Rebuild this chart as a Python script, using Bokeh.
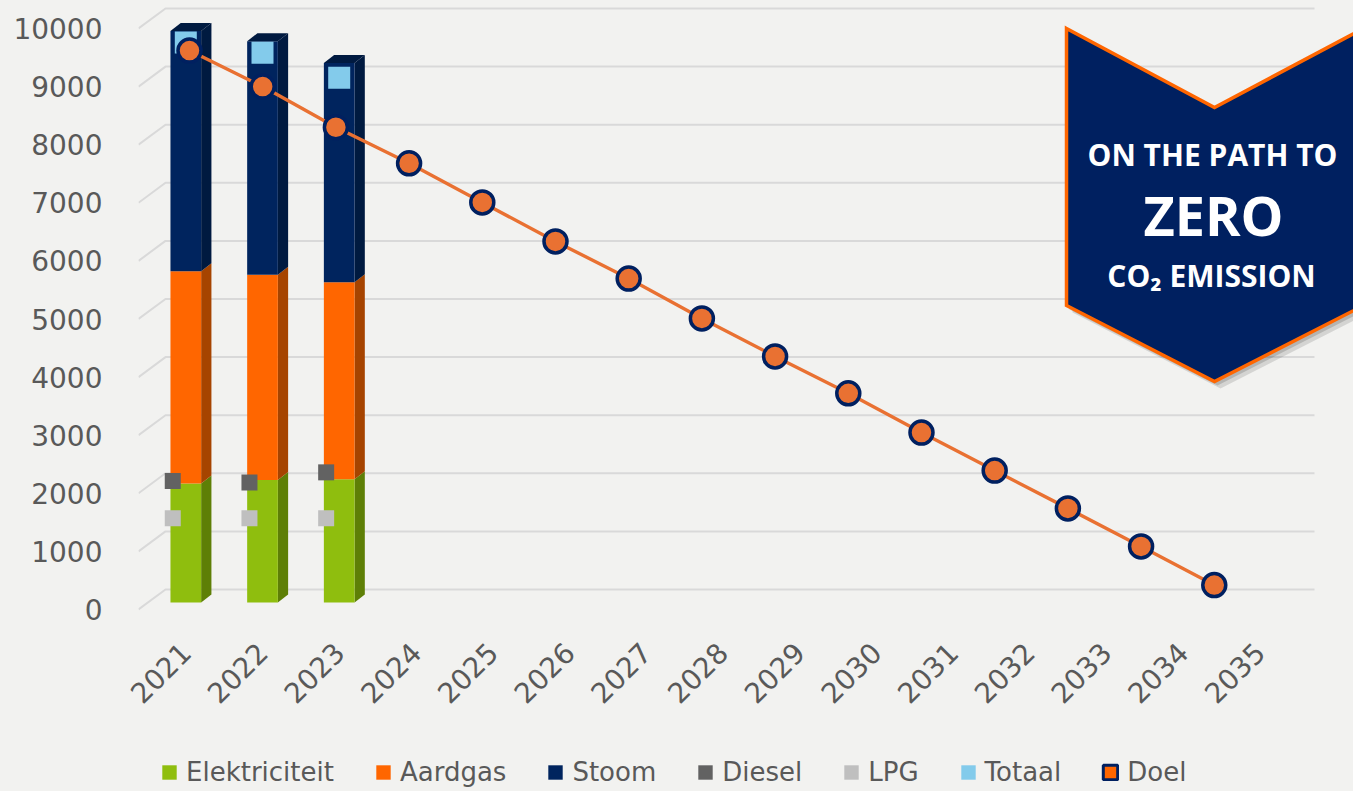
import numpy as np
from bokeh.plotting import figure
from bokeh.layouts import column
from bokeh.models import Range1d, LinearAxis, FixedTicker, Legend, LegendItem, ColumnDataSource
from bokeh.core.properties import value
from bokeh.transform import dodge
from bokeh.embed import file_html
from bokeh.resources import INLINE

# ---------------- data ----------------
years = ["2021", "2022", "2023", "2024", "2025", "2026", "2027", "2028",
         "2029", "2030", "2031", "2032", "2033", "2034", "2035"]
bar_years = ["2021", "2022", "2023"]
elektriciteit = [2050, 2110, 2120]
aardgas = [3650, 3530, 3390]
stoom = [4135, 4020, 3775]
diesel = [2090, 2065, 2240]
lpg = [1450, 1450, 1450]
totaal = [9640, 9460, 9030]
doel = [9500, 8880, 8180, 7560, 6885, 6215, 5575, 4890, 4235, 3600, 2925, 2270, 1620, 965, 300]
yticks = [0, 1000, 2000, 3000, 4000, 5000, 6000, 7000, 8000, 9000, 10000]

# ---------------- style ----------------
BG = "#f2f2f0"
TXT = "#595959"
FONT = "DejaVu Sans"
C_EL, C_EL_S = "#8fbe0e", "#5e7f06"
C_AG, C_AG_S = "#ff6600", "#a64400"
C_ST, C_ST_S = "#00245e", "#001a40"
C_DI, C_LPG, C_TOT = "#626262", "#bfbfbf", "#83cbeb"
C_DOEL, C_NAVY = "#e97132", "#002060"

W, H, LH = 1353, 745, 46

p = figure(width=W, height=H, output_backend="svg", toolbar_location=None, title=None,
           x_axis_location=None, y_axis_location=None,
           x_range=Range1d(-0.6167, 15.224), y_range=Range1d(-309.8, 10361.4),
           min_border_left=138, min_border_right=0, min_border_top=0, min_border_bottom=125,
           background_fill_color=BG, border_fill_color=BG, outline_line_color=None,
           styles={"background-color": BG})
p.grid.visible = False
p.extra_x_ranges = {"doel": Range1d(-0.6967, 15.902), "px": Range1d(138, 1353)}
p.extra_y_ranges = {"front": Range1d(-189.3, 10481.9), "back": Range1d(-533.6, 10137.7),
                    "px": Range1d(620, 0)}

# ---------------- grid (3D back wall) ----------------
gxs = [[138, 165, 1314] for _ in yticks]
gys = [[v - 344, v, v] for v in yticks]
p.multi_line(xs=gxs, ys=gys, x_range_name="px", y_range_name="back",
             line_color="#d9d9d9", line_width=2)

# ---------------- bars (3D columns) ----------------
xi = np.arange(len(bar_years), dtype=float)
el = np.array(elektriciteit, float)
ag = np.array(aardgas, float)
st = np.array(stoom, float)
b0 = np.zeros_like(el)
b1 = el
b2 = el + ag
b3 = el + ag + st
bw = 0.4
dx, dy = 0.134, 138.0

for lo, hi, cf, cs in [(b0, b1, C_EL, C_EL_S), (b1, b2, C_AG, C_AG_S), (b2, b3, C_ST, C_ST_S)]:
    xr = xi + bw / 2
    sx = [[r, r + dx, r + dx, r] for r in xr]
    sy = [[l, l + dy, h + dy, h] for l, h in zip(lo, hi)]
    p.patches(xs=sx, ys=sy, fill_color=cs, line_color=None)
    p.vbar(x=xi, width=bw, bottom=lo, top=hi, fill_color=cf, line_color=None)

tx = [[x - bw / 2, x - bw / 2 + dx, x + bw / 2 + dx, x + bw / 2] for x in xi]
ty = [[t, t + dy, t + dy, t] for t in b3]
p.patches(xs=tx, ys=ty, fill_color=C_ST_S, line_color=None)

# ---------------- markers ----------------
msrc = ColumnDataSource(dict(x=xi, diesel=diesel, lpg=lpg, totaal=totaal))
p.scatter(x=dodge("x", -0.17), y="lpg", source=msrc, marker="square", size=16,
          fill_color=C_LPG, line_color=None)
p.scatter(x=dodge("x", -0.17), y="diesel", source=msrc, marker="square", size=16,
          fill_color=C_DI, line_color=None)
p.scatter(x="x", y="totaal", source=msrc, marker="square", size=22,
          fill_color=C_TOT, line_color=None)

dsrc = ColumnDataSource(dict(x=np.arange(len(years), dtype=float), y=doel))
p.line(x="x", y="y", source=dsrc, x_range_name="doel", line_color=C_DOEL, line_width=3.4)
p.scatter(x="x", y="y", source=dsrc, x_range_name="doel", marker="circle", size=23,
          fill_color=C_DOEL, line_color=C_NAVY, line_width=3.5)

# ---------------- banner ----------------
bx = [1066, 1214, 1363, 1363, 1214, 1066]
by = [28, 107, 28, 305, 381, 305]
p.patch(x=[v + 6 for v in bx], y=[v + 7 for v in by], x_range_name="px", y_range_name="px",
        fill_color="#000000", fill_alpha=0.12, line_color=None)
p.patch(x=[v + 3 for v in bx], y=[v + 4 for v in by], x_range_name="px", y_range_name="px",
        fill_color="#000000", fill_alpha=0.15, line_color=None)
p.patch(x=bx, y=by, x_range_name="px", y_range_name="px",
        fill_color=C_NAVY, line_color="#ff6600", line_width=3.5, line_join="miter")
p.text(x=[1212], y=[154], text=["ON THE PATH TO"], x_range_name="px", y_range_name="px",
       text_font=value("Open Sans"), text_font_style="bold", text_font_size="30px",
       text_color="white", text_align="center", text_baseline="middle")
p.text(x=[1213], y=[214], text=["ZERO"], x_range_name="px", y_range_name="px",
       text_font=value("Open Sans"), text_font_style="bold", text_font_size="54px",
       text_color="white", text_align="center", text_baseline="middle")
p.text(x=[1211], y=[275], text=["CO₂ EMISSION"], x_range_name="px", y_range_name="px",
       text_font=value("Open Sans"), text_font_style="bold", text_font_size="30px",
       text_color="white", text_align="center", text_baseline="middle")

# ---------------- axes ----------------
yax = LinearAxis(y_range_name="front", ticker=FixedTicker(ticks=yticks))
xax = LinearAxis(ticker=FixedTicker(ticks=list(range(len(years)))),
                 major_label_overrides={i: y for i, y in enumerate(years)})
xax.major_label_orientation = np.pi / 4
for ax, so, fs in [(yax, 36, "28px"), (xax, 27, "28px")]:
    ax.axis_line_color = None
    ax.major_tick_line_color = None
    ax.minor_tick_line_color = None
    ax.major_tick_out = 0
    ax.major_tick_in = 0
    ax.major_label_standoff = so
    ax.major_label_text_font = FONT
    ax.major_label_text_font_size = fs
    ax.major_label_text_color = TXT
p.add_layout(yax, "left")
p.add_layout(xax, "below")

# ---------------- legend (own strip below the chart) ----------------
lf = figure(width=W, height=LH, output_backend="svg", toolbar_location=None, title=None,
            x_axis_location=None, y_axis_location=None,
            x_range=Range1d(0, 1), y_range=Range1d(0, 1),
            min_border_left=0, min_border_right=0, min_border_top=0, min_border_bottom=0,
            background_fill_color=BG, border_fill_color=BG, outline_line_color=None,
            styles={"background-color": BG})
lf.grid.visible = False


def dummy(fill, line=None, lw=0):
    # legend-only renderer: a single undefined (NaN) quad that is never drawn
    return lf.quad(left=[np.nan], right=[np.nan], top=[np.nan], bottom=[np.nan],
                   fill_color=fill, line_color=line, line_width=lw)


items = [
    LegendItem(label="Elektriciteit", renderers=[dummy(C_EL)]),
    LegendItem(label="Aardgas", renderers=[dummy(C_AG)]),
    LegendItem(label="Stoom", renderers=[dummy(C_ST)]),
    LegendItem(label="Diesel", renderers=[dummy(C_DI)]),
    LegendItem(label="LPG", renderers=[dummy(C_LPG)]),
    LegendItem(label="Totaal", renderers=[dummy(C_TOT)]),
    LegendItem(label="Doel", renderers=[dummy("#ff6600", C_NAVY, 3)]),
]
leg = Legend(items=items, orientation="horizontal", location=(22, 4),
             spacing=40, label_standoff=8, glyph_width=18, glyph_height=18,
             padding=0, margin=0, border_line_color=None, background_fill_alpha=0,
             label_text_font=FONT, label_text_font_size="26px", label_text_color=TXT)
lf.add_layout(leg, "center")

layout = column(p, lf, spacing=0, styles={"background-color": BG})
open("out.html", "w").write(file_html(layout, INLINE))
